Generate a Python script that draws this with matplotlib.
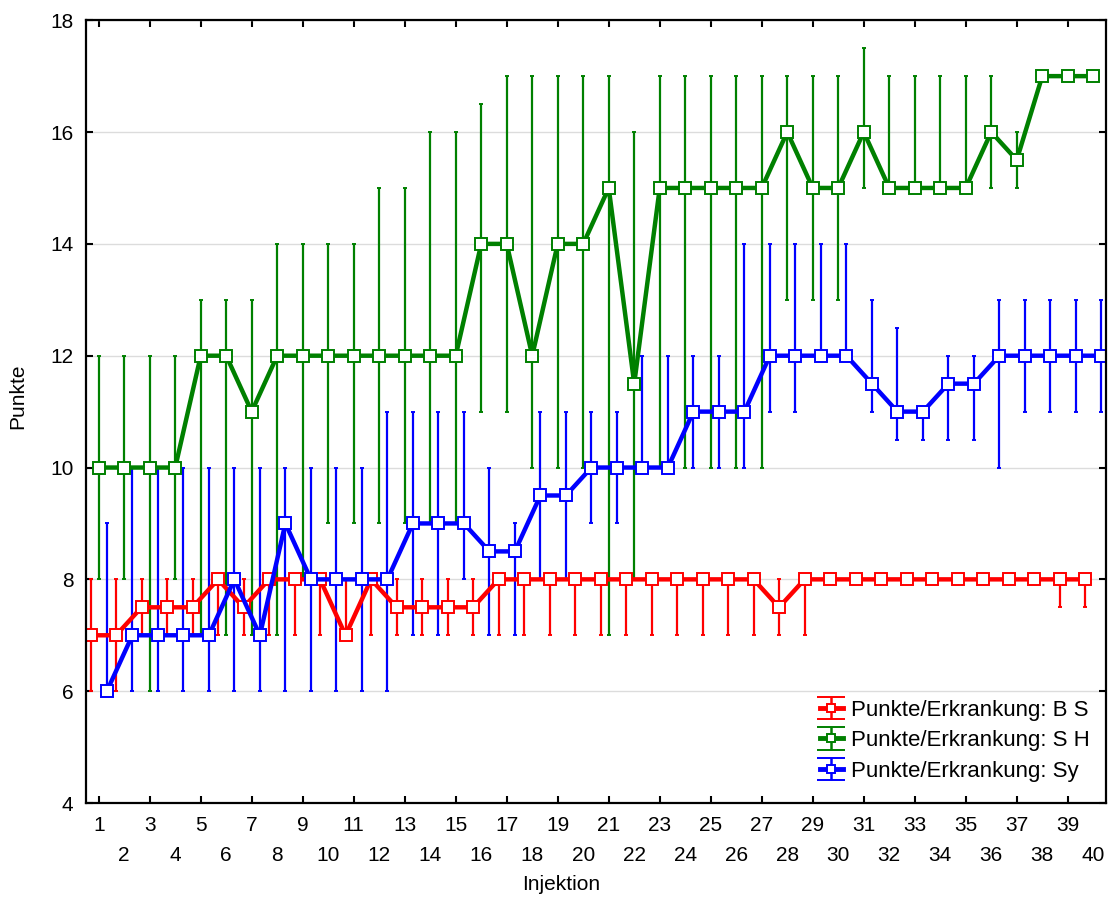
import numpy as np
import matplotlib
matplotlib.use("Agg")
import matplotlib.pyplot as plt

plt.rcParams['font.family'] = ['Liberation Sans', 'DejaVu Sans']

injektion = list(range(1, 41))

# Punkte/Erkrankung: B S
bs_mean = [7, 7, 7.5, 7.5, 7.5, 8, 7.5, 8, 8, 8,
           7, 8, 7.5, 7.5, 7.5, 7.5, 8, 8, 8, 8,
           8, 8, 8, 8, 8, 8, 8, 7.5, 8, 8,
           8, 8, 8, 8, 8, 8, 8, 8, 8, 8]
bs_low = [6, 6, 7, 7, 7, 7, 7, 7, 7, 7,
          7, 7, 7, 7, 7, 7, 7, 7, 7, 7,
          7, 7, 7, 7, 7, 7, 7, 7, 7, 8,
          8, 8, 8, 8, 8, 8, 8, 8, 7.5, 7.5]
bs_high = [8] * 40

# Punkte/Erkrankung: S H
sh_mean = [10, 10, 10, 10, 12, 12, 11, 12, 12, 12,
           12, 12, 12, 12, 12, 14, 14, 12, 14, 14,
           15, 11.5, 15, 15, 15, 15, 15, 16, 15, 15,
           16, 15, 15, 15, 15, 16, 15.5, 17, 17, 17]
sh_low = [8, 8, 6, 8, 7, 7, 7, 7, 8, 9,
          9, 9, 9, 9, 9, 11, 11, 10, 10, 10,
          7, 8, 10, 10, 10, 10, 10, 13, 13, 13,
          15, 15, 15, 15, 15, 15, 15, 17, 17, 17]
sh_high = [12, 12, 12, 12, 13, 13, 13, 14, 14, 14,
           14, 15, 15, 16, 16, 16.5, 17, 17, 17, 17,
           17, 16, 17, 17, 17, 17, 17, 17, 17, 17,
           17.5, 17, 17, 17, 17, 17, 16, 17, 17, 17]

# Punkte/Erkrankung: Sy
sy_mean = [6, 7, 7, 7, 7, 8, 7, 9, 8, 8,
           8, 8, 9, 9, 9, 8.5, 8.5, 9.5, 9.5, 10,
           10, 10, 10, 11, 11, 11, 12, 12, 12, 12,
           11.5, 11, 11, 11.5, 11.5, 12, 12, 12, 12, 12]
sy_low = [6, 6, 6, 6, 6, 6, 6, 6, 6, 6,
          6, 6, 7, 7, 8, 7, 7, 8, 8, 9,
          9, 10, 10, 10, 10, 10, 11, 11, 12, 12,
          11, 10.5, 10.5, 10.5, 10.5, 10, 11, 11, 11, 11]
sy_high = [9, 10, 10, 10, 10, 10, 10, 10, 10, 10,
           10, 11, 11, 11, 11, 10, 9, 11, 11, 11,
           11, 12, 12, 12, 12, 14, 14, 14, 14, 14,
           13, 12.5, 11, 12, 12, 13, 13, 13, 13, 13]

series = [
    ("Punkte/Erkrankung: B S", bs_mean, bs_low, bs_high, "#ff0000", -0.32),
    ("Punkte/Erkrankung: S H", sh_mean, sh_low, sh_high, "#008000", 0.0),
    ("Punkte/Erkrankung: Sy", sy_mean, sy_low, sy_high, "#0000ff", 0.32),
]

fig = plt.figure(figsize=(11.12, 9.19), dpi=100)
ax = fig.add_axes([0.0773, 0.1262, 0.9173, 0.8518])

x = np.array(injektion, dtype=float)
handles = []
for label, mean, low, high, color, shift in series:
    mean = np.array(mean, dtype=float)
    yerr = [mean - np.array(low), np.array(high) - mean]
    ax.errorbar(x + shift, mean, yerr=yerr, color=color, lw=3.2,
                elinewidth=1.6, capsize=1.2, capthick=2.5,
                marker='s', ms=8, mfc='white', mec=color, mew=1.4)
    # proxy with wider caps for the legend
    h = ax.errorbar([np.nan], [np.nan], yerr=[[1], [1]], color=color, lw=3.5,
                    elinewidth=1.8, capsize=10, capthick=1.8,
                    marker='s', ms=6, mfc='white', mec=color, mew=1.4)
    handles.append((h, label))

ax.set_xlim(0.5, 40.5)
ax.set_ylim(4, 18)
ax.set_yticks(range(4, 19, 2))
ax.yaxis.grid(True, color='#dcdcdc', lw=1)
ax.set_axisbelow(True)

odd = [c for c in injektion if c % 2 == 1]
even = [c for c in injektion if c % 2 == 0]
ax.set_xticks(odd)
ax.set_xticklabels([str(c) for c in odd])
ax.set_xticks(even, minor=True)
ax.set_xticklabels([str(c) for c in even], minor=True)

ax.tick_params(axis='both', which='major', direction='in', length=5, width=1.5,
               labelsize=15, top=True, right=True)
ax.tick_params(axis='x', which='major', pad=9)
ax.tick_params(axis='x', which='minor', length=0, pad=31, labelsize=15)
ax.tick_params(axis='y', pad=9)
for s in ax.spines.values():
    s.set_linewidth(1.6)

ax.set_xlabel("Injektion", fontsize=15)
ax.xaxis.set_label_coords(0.466, -0.092)
ax.set_ylabel("Punkte", fontsize=15)
ax.yaxis.set_label_coords(-0.058, 0.52)

ax.legend([h for h, _ in handles], [l for _, l in handles], loc='upper left',
          bbox_to_anchor=(0.72, 0.132), frameon=False, fontsize=16,
          handlelength=1.0, handletextpad=0.36, labelspacing=0.43,
          borderaxespad=0, borderpad=0)

fig.savefig("out.png", dpi=100)
